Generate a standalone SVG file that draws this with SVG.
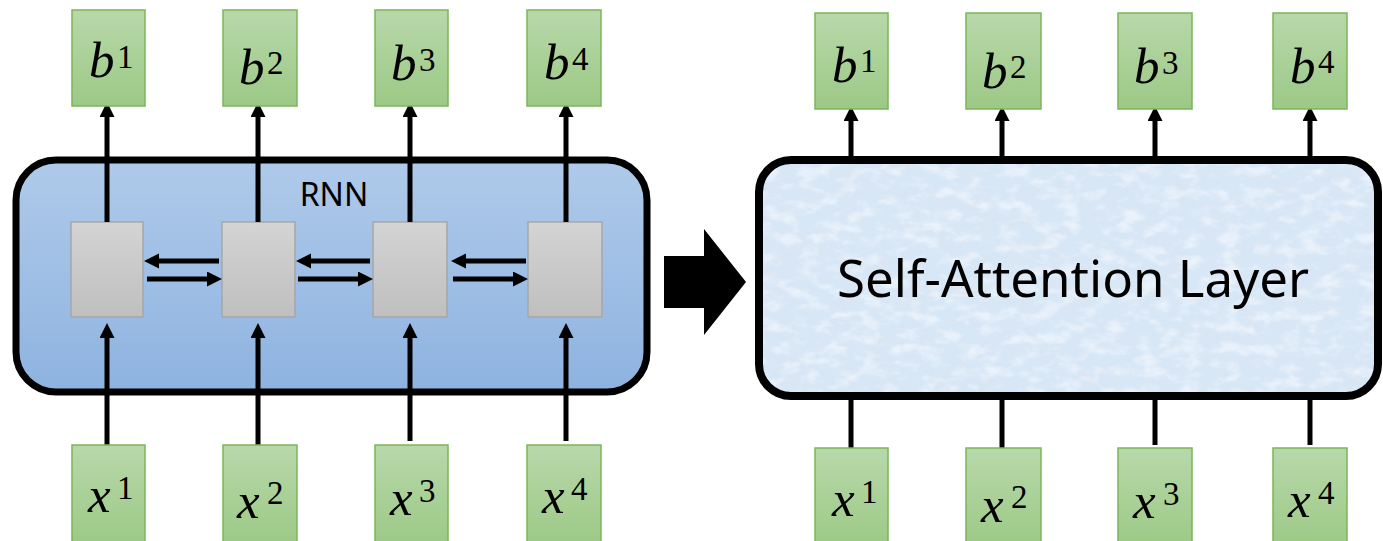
<svg xmlns="http://www.w3.org/2000/svg" width="1383" height="541" viewBox="0 0 1383 541">
  <style>
    .io { stroke: #7bb558; stroke-width: 1.5; fill: url(#gGreen); }
    .cell { stroke: #a6a6a6; stroke-width: 1.5; fill: url(#gGray); }
    .wire { stroke: #000; stroke-width: 5; fill: none; }
    .arr { marker-end: url(#head); }
    .var { font-family: "Liberation Serif", "DejaVu Serif", serif; font-style: italic; font-size: 51px; fill: #000; }
    .sup { font-family: "Liberation Serif", "DejaVu Serif", serif; font-style: normal; font-size: 33px; }
    .lbl { font-family: "Noto Sans", "Open Sans", sans-serif; fill: #000; }
  </style>
  <defs>
    <linearGradient id="gGreen" x1="0" y1="0" x2="0" y2="1">
      <stop offset="0" stop-color="#b8d8aa"/>
      <stop offset="1" stop-color="#9cc986"/>
    </linearGradient>
    <linearGradient id="gGray" x1="0" y1="0" x2="0" y2="1">
      <stop offset="0" stop-color="#d4d4d4"/>
      <stop offset="1" stop-color="#bfbfbf"/>
    </linearGradient>
    <linearGradient id="gBlue" x1="0" y1="0" x2="0" y2="1">
      <stop offset="0" stop-color="#afcaea"/>
      <stop offset="1" stop-color="#8eb3e0"/>
    </linearGradient>
    <marker id="head" markerUnits="userSpaceOnUse" markerWidth="16" markerHeight="16" refX="2" refY="7.5" orient="auto">
      <path d="M0,0 L15,7.5 L0,15 Z" fill="#000"/>
    </marker>
    <!-- mottled paper-like texture for the attention block -->
    <filter id="mottleDark" x="0" y="0" width="100%" height="100%">
      <feTurbulence type="fractalNoise" baseFrequency="0.03 0.07" numOctaves="4" seed="7" result="n"/>
      <feColorMatrix in="n" type="matrix" values="0 0 0 0 0.70  0 0 0 0 0.78  0 0 0 0 0.88  3 0 0 0 -1.45"/>
    </filter>
    <filter id="mottleLight" x="0" y="0" width="100%" height="100%">
      <feTurbulence type="fractalNoise" baseFrequency="0.05 0.09" numOctaves="3" seed="21" result="n"/>
      <feColorMatrix in="n" type="matrix" values="0 0 0 0 0.94  0 0 0 0 0.97  0 0 0 0 1  0 3 0 0 -1.35"/>
    </filter>
    <clipPath id="saClip">
      <rect x="759" y="160" width="619" height="236" rx="32"/>
    </clipPath>
  </defs>

  <!-- RNN block -->
  <g id="rnn">
    <rect x="16" y="160" width="631" height="232" rx="40" fill="url(#gBlue)" stroke="#000" stroke-width="7"/>
    <text class="lbl" x="334" y="206" font-size="32" text-anchor="middle">RNN</text>
  </g>

  <!-- recurrent cells -->
  <g id="cell1"><rect class="cell" x="71" y="222" width="72" height="95"/></g>
  <g id="cell2"><rect class="cell" x="222" y="222" width="73" height="95"/></g>
  <g id="cell3"><rect class="cell" x="373" y="222" width="74" height="95"/></g>
  <g id="cell4"><rect class="cell" x="528" y="222" width="74" height="95"/></g>

  <!-- transition arrow -->
  <g id="transition">
    <path d="M664,256 H704 V229 L746,282 L704,335 V308 H664 Z" fill="#000"/>
  </g>

  <!-- Self-attention block -->
  <g id="self-attention">
    <rect x="759" y="160" width="619" height="236" rx="32" fill="#d8e7f6"/>
    <g clip-path="url(#saClip)">
      <rect x="759" y="160" width="619" height="236" filter="url(#mottleDark)" opacity="0.55"/>
      <rect x="759" y="160" width="619" height="236" filter="url(#mottleLight)" opacity="0.55"/>
    </g>
    <rect x="759" y="160" width="619" height="236" rx="32" fill="none" stroke="#000" stroke-width="8"/>
    <text class="lbl" x="1073" y="297" font-size="51" text-anchor="middle">Self-Attention Layer</text>
  </g>

  <!-- connectors -->
  <g id="connectors">
    <!-- RNN outputs -->
    <line class="wire arr" x1="107" y1="222" x2="107" y2="115"/>
    <line class="wire arr" x1="258" y1="222" x2="258" y2="115"/>
    <line class="wire arr" x1="410" y1="222" x2="410" y2="115"/>
    <line class="wire arr" x1="566" y1="222" x2="566" y2="115"/>
    <!-- RNN inputs -->
    <line class="wire arr" x1="107" y1="445" x2="107" y2="336"/>
    <line class="wire arr" x1="258" y1="445" x2="258" y2="336"/>
    <line class="wire arr" x1="410" y1="441" x2="410" y2="336"/>
    <line class="wire arr" x1="566" y1="441" x2="566" y2="336"/>
    <!-- backward / forward recurrences -->
    <line class="wire arr" x1="219" y1="261" x2="157" y2="261"/>
    <line class="wire arr" x1="147" y1="279" x2="209" y2="279"/>
    <line class="wire arr" x1="370" y1="261" x2="309" y2="261"/>
    <line class="wire arr" x1="298" y1="279" x2="360" y2="279"/>
    <line class="wire arr" x1="526" y1="261" x2="464" y2="261"/>
    <line class="wire arr" x1="453" y1="279" x2="515" y2="279"/>
    <!-- self-attention outputs -->
    <line class="wire arr" x1="851" y1="160" x2="851" y2="119"/>
    <line class="wire arr" x1="1002" y1="160" x2="1002" y2="119"/>
    <line class="wire arr" x1="1155" y1="160" x2="1155" y2="119"/>
    <line class="wire arr" x1="1310" y1="160" x2="1310" y2="119"/>
    <!-- self-attention inputs -->
    <line class="wire" x1="851" y1="396" x2="851" y2="448"/>
    <line class="wire" x1="1002" y1="396" x2="1002" y2="448"/>
    <line class="wire" x1="1155" y1="396" x2="1155" y2="445"/>
    <line class="wire" x1="1310" y1="396" x2="1310" y2="445"/>
  </g>

  <!-- RNN output nodes -->
  <g id="rnn-b1"><rect class="io" x="72" y="10" width="73" height="96"/><text class="var" x="89" y="77">b<tspan class="sup" x="117" y="68">1</tspan></text></g>
  <g id="rnn-b2"><rect class="io" x="223" y="10" width="74" height="96"/><text class="var" x="239" y="84">b<tspan class="sup" x="267" y="74">2</tspan></text></g>
  <g id="rnn-b3"><rect class="io" x="375" y="10" width="73" height="96"/><text class="var" x="391" y="80">b<tspan class="sup" x="419" y="71">3</tspan></text></g>
  <g id="rnn-b4"><rect class="io" x="527" y="10" width="74" height="96"/><text class="var" x="544" y="79">b<tspan class="sup" x="572" y="70">4</tspan></text></g>

  <!-- RNN input nodes -->
  <g id="rnn-x1"><rect class="io" x="72" y="445" width="73" height="100"/><text class="var" x="88" y="512">x<tspan class="sup" x="117" y="499">1</tspan></text></g>
  <g id="rnn-x2"><rect class="io" x="223" y="445" width="74" height="100"/><text class="var" x="237" y="518">x<tspan class="sup" x="267" y="504">2</tspan></text></g>
  <g id="rnn-x3"><rect class="io" x="375" y="445" width="73" height="100"/><text class="var" x="390" y="515">x<tspan class="sup" x="419" y="502">3</tspan></text></g>
  <g id="rnn-x4"><rect class="io" x="527" y="445" width="74" height="100"/><text class="var" x="542" y="513">x<tspan class="sup" x="571" y="500">4</tspan></text></g>

  <!-- self-attention output nodes -->
  <g id="sa-b1"><rect class="io" x="815" y="13" width="73" height="96"/><text class="var" x="832" y="82">b<tspan class="sup" x="860" y="72">1</tspan></text></g>
  <g id="sa-b2"><rect class="io" x="966" y="13" width="75" height="96"/><text class="var" x="982" y="88">b<tspan class="sup" x="1010" y="78">2</tspan></text></g>
  <g id="sa-b3"><rect class="io" x="1118" y="13" width="74" height="96"/><text class="var" x="1134" y="83">b<tspan class="sup" x="1162" y="74">3</tspan></text></g>
  <g id="sa-b4"><rect class="io" x="1273" y="13" width="74" height="96"/><text class="var" x="1290" y="83">b<tspan class="sup" x="1318" y="73">4</tspan></text></g>

  <!-- self-attention input nodes -->
  <g id="sa-x1"><rect class="io" x="815" y="448" width="73" height="100"/><text class="var" x="832" y="516">x<tspan class="sup" x="861" y="503">1</tspan></text></g>
  <g id="sa-x2"><rect class="io" x="966" y="448" width="75" height="100"/><text class="var" x="981" y="522">x<tspan class="sup" x="1011" y="508">2</tspan></text></g>
  <g id="sa-x3"><rect class="io" x="1118" y="448" width="74" height="100"/><text class="var" x="1133" y="518">x<tspan class="sup" x="1163" y="505">3</tspan></text></g>
  <g id="sa-x4"><rect class="io" x="1273" y="448" width="74" height="100"/><text class="var" x="1288" y="517">x<tspan class="sup" x="1318" y="504">4</tspan></text></g>
</svg>
